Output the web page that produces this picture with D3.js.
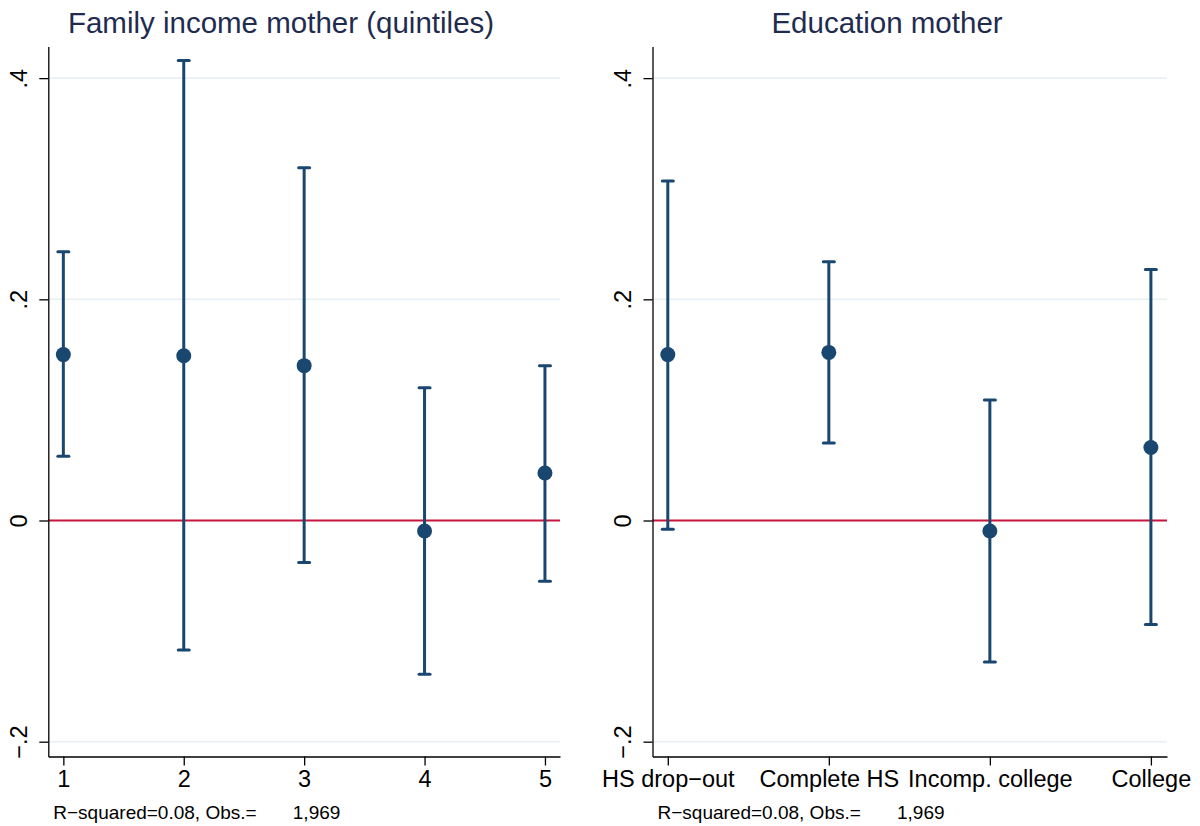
<!DOCTYPE html>
<html>
<head>
<meta charset="utf-8">
<script src="https://cdn.jsdelivr.net/npm/d3@7"></script>
<style>
  html, body { margin: 0; padding: 0; background: #ffffff; }
  svg { display: block; font-family: "Liberation Sans", Arial, Helvetica, sans-serif; }
</style>
</head>
<body>
<svg id="chart" width="1200" height="826"></svg>
<script>
// Coefficients with 95% confidence intervals, by category
const incomeTitle = "Family income mother (quintiles)";
const incomeCats = ["1", "2", "3", "4", "5"];
const incomeCoef = [0.150, 0.149, 0.140, -0.0095, 0.043];
const incomeLo   = [0.058, -0.117, -0.038, -0.139, -0.055];
const incomeHi   = [0.243, 0.416, 0.319, 0.120, 0.140];

const eduTitle = "Education mother";
const eduCats = ["HS drop\u2212out", "Complete HS", "Incomp. college", "College"];
const eduCoef = [0.150, 0.152, -0.0095, 0.066];
const eduLo   = [-0.008, 0.070, -0.128, -0.094];
const eduHi   = [0.307, 0.234, 0.109, 0.227];

const yTicks = [-0.2, 0, 0.2, 0.4];
const yTickLabels = ["\u2212.2", "0", ".2", ".4"];

const noteLabel = "R\u2212squared=0.08, Obs.=";
const noteObs = "1,969";

const navy = "#1a476f";
const zeroRed = "#c8153d";
const gridCol = "#e9f0f3";
const titleCol = "#1f2c4f";

const svg = d3.select("#chart");

const yTop = 46.5, yBottom = 756.5;
const y = d3.scaleLinear().domain([-0.2134, 0.4286]).range([yBottom, yTop]);

const panels = [
  { title: incomeTitle, cats: incomeCats, coef: incomeCoef, lo: incomeLo, hi: incomeHi,
    left: 48.3, right: 560, xDomain: [0.875, 5.125], titleX: 281 },
  { title: eduTitle, cats: eduCats, coef: eduCoef, lo: eduLo, hi: eduHi,
    left: 652.5, right: 1167, xDomain: [0.905, 4.1], titleX: 887 }
];

panels.forEach(p => {
  const g = svg.append("g");
  const x = d3.scaleLinear().domain(p.xDomain).range([p.left, p.right]);
  const idx = p.cats.map((_, i) => i + 1);

  // title
  g.append("text")
    .attr("x", p.titleX).attr("y", 33)
    .attr("text-anchor", "middle")
    .attr("font-size", 29.5)
    .attr("fill", titleCol)
    .text(p.title);

  // horizontal grid lines
  g.selectAll("line.grid").data(yTicks.filter(t => t !== 0)).join("line")
    .attr("class", "grid")
    .attr("x1", p.left).attr("x2", p.right)
    .attr("y1", d => y(d)).attr("y2", d => y(d))
    .attr("stroke", gridCol).attr("stroke-width", 1.6);

  // reference line at zero
  g.append("line")
    .attr("x1", p.left).attr("x2", p.right)
    .attr("y1", y(0)).attr("y2", y(0))
    .attr("stroke", zeroRed).attr("stroke-width", 2);

  // y axis
  const ya = g.append("g")
    .attr("transform", `translate(${p.left},0)`)
    .call(d3.axisLeft(y).tickValues(yTicks)
      .tickFormat((d, i) => yTickLabels[i]).tickSize(9).tickSizeOuter(0));
  ya.select(".domain").attr("stroke", "#000").attr("stroke-width", 1.3);
  ya.selectAll(".tick line").attr("stroke", "#000").attr("stroke-width", 1.3);
  ya.selectAll(".tick text")
    .attr("x", null).attr("dy", null)
    .attr("text-anchor", "middle")
    .attr("transform", "translate(-21.3,0) rotate(-90)")
    .attr("font-size", 23.5)
    .attr("font-family", "'Liberation Sans', Arial, sans-serif")
    .attr("fill", "#000");

  // x axis
  const xa = g.append("g")
    .attr("transform", `translate(0,${yBottom})`)
    .call(d3.axisBottom(x).tickValues(idx)
      .tickFormat(i => p.cats[i - 1]).tickSize(9).tickSizeOuter(0));
  xa.select(".domain").attr("stroke", "#000").attr("stroke-width", 1.3);
  xa.selectAll(".tick line").attr("stroke", "#000").attr("stroke-width", 1.3);
  xa.selectAll(".tick text")
    .attr("y", 30.5).attr("dy", null)
    .attr("font-size", 23.5)
    .attr("font-family", "'Liberation Sans', Arial, sans-serif")
    .attr("fill", "#000");

  // confidence intervals
  const rows = idx.map(i => ({ i, c: p.coef[i - 1], lo: p.lo[i - 1], hi: p.hi[i - 1] }));
  const ci = g.append("g").attr("stroke", navy).attr("stroke-width", 3);
  ci.selectAll("line.bar").data(rows).join("line")
    .attr("class", "bar")
    .attr("x1", d => x(d.i)).attr("x2", d => x(d.i))
    .attr("y1", d => y(d.lo)).attr("y2", d => y(d.hi));
  ["lo", "hi"].forEach(k => {
    ci.selectAll("line.cap-" + k).data(rows).join("line")
      .attr("class", "cap-" + k)
      .attr("stroke-linecap", "round")
      .attr("x1", d => x(d.i) - 5.5).attr("x2", d => x(d.i) + 5.5)
      .attr("y1", d => y(d[k])).attr("y2", d => y(d[k]));
  });

  // point estimates
  g.selectAll("circle.pt").data(rows).join("circle")
    .attr("class", "pt")
    .attr("cx", d => x(d.i)).attr("cy", d => y(d.c))
    .attr("r", 7.5)
    .attr("fill", navy);

  // note
  const note = g.append("text")
    .attr("y", 819)
    .attr("font-size", 19)
    .attr("fill", "#000");
  note.append("tspan").attr("x", p.left + 5).text(noteLabel);
  note.append("tspan").attr("x", p.left + 244.5).text(noteObs);
});
</script>
</body>
</html>
